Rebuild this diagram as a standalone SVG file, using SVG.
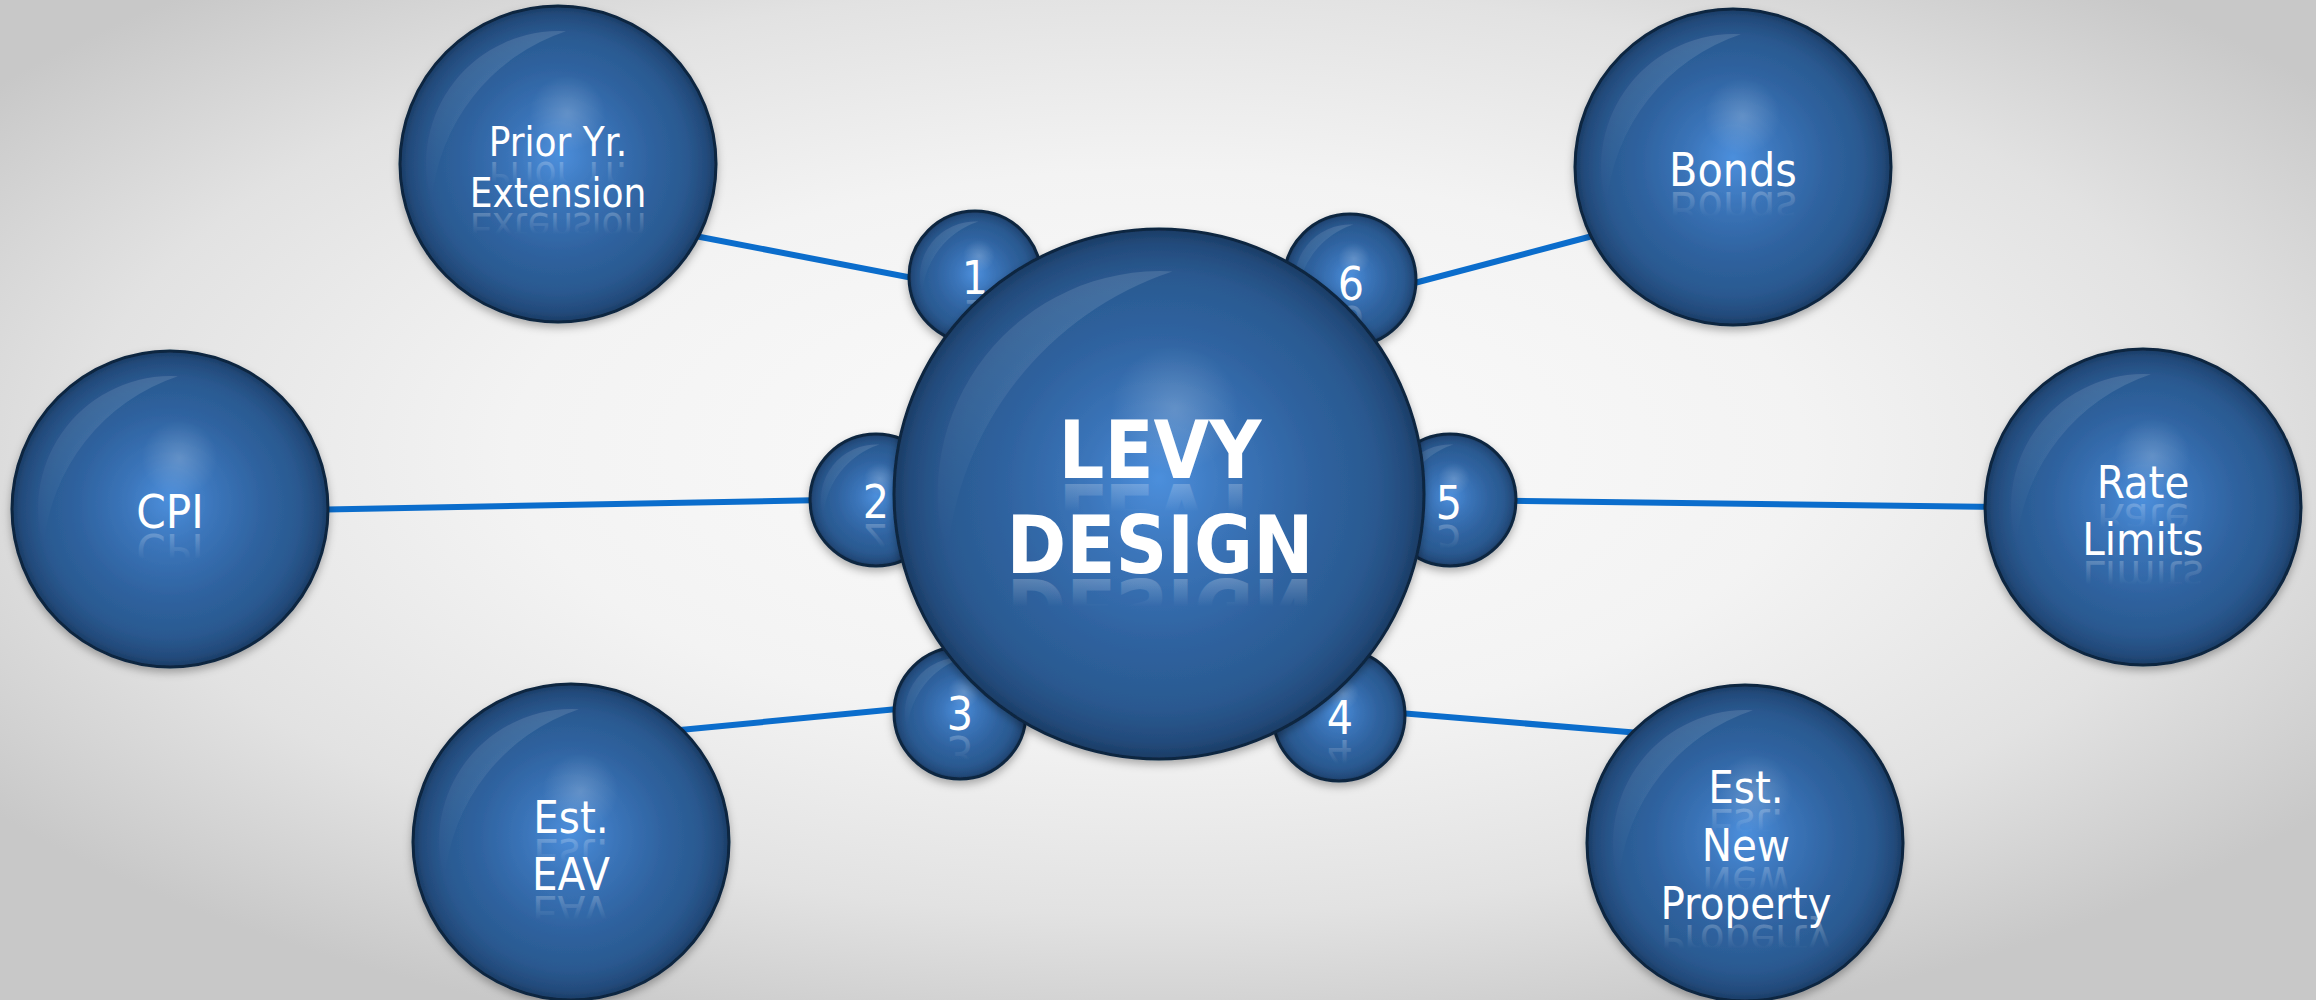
<svg xmlns="http://www.w3.org/2000/svg" width="2316" height="1000" viewBox="0 0 2316 1000">
  <defs>
    <style>
      .orb { fill: url(#orbFill); stroke: #0d2540; stroke-width: 3; filter: url(#shadow); }
      .spot { fill: url(#spotFill); }
      .gloss { fill: url(#glossFill); }
      .lbl { font-family: "DejaVu Sans Condensed", "DejaVu Sans", sans-serif; font-stretch: condensed; fill: #ffffff; text-anchor: middle; }
      .refl { fill: url(#reflFill); }
      .reflBig { fill: url(#reflFillBig); }
      .big { font-weight: bold; font-size: 80px; }
      .num { font-size: 46px; }
      .conn { stroke: #0b6dcc; stroke-width: 6; stroke-linecap: butt; fill: none; }
    </style>
    <radialGradient id="bgFill" cx="0.5" cy="0.45" r="0.62">
      <stop offset="0" stop-color="#fbfbfb"/>
      <stop offset="0.45" stop-color="#f3f3f3"/>
      <stop offset="0.75" stop-color="#e2e2e2"/>
      <stop offset="1" stop-color="#c8c8c8"/>
    </radialGradient>
    <radialGradient id="orbFill" cx="0.5" cy="0.5" r="0.5" fx="0.5" fy="0.47">
      <stop offset="0" stop-color="#4c8fdc"/>
      <stop offset="0.28" stop-color="#3b75ba"/>
      <stop offset="0.58" stop-color="#2f63a0"/>
      <stop offset="0.82" stop-color="#2a5990"/>
      <stop offset="0.94" stop-color="#234b7c"/>
      <stop offset="1" stop-color="#1b3c65"/>
    </radialGradient>
    <radialGradient id="spotFill" cx="0.53" cy="0.34" r="0.12">
      <stop offset="0" stop-color="#ffffff" stop-opacity="0.2"/>
      <stop offset="1" stop-color="#ffffff" stop-opacity="0"/>
    </radialGradient>
    <linearGradient id="glossFill" x1="0.7" y1="0" x2="0.1" y2="1">
      <stop offset="0" stop-color="#ffffff" stop-opacity="0.12"/>
      <stop offset="0.6" stop-color="#ffffff" stop-opacity="0.06"/>
      <stop offset="1" stop-color="#ffffff" stop-opacity="0"/>
    </linearGradient>
    <linearGradient id="reflFill" x1="0" y1="0" x2="0" y2="1">
      <stop offset="0" stop-color="#ffffff" stop-opacity="0"/>
      <stop offset="0.35" stop-color="#ffffff" stop-opacity="0"/>
      <stop offset="0.8" stop-color="#ffffff" stop-opacity="0.22"/>
      <stop offset="1" stop-color="#ffffff" stop-opacity="0.22"/>
    </linearGradient>
    <linearGradient id="reflFillBig" x1="0" y1="0" x2="0" y2="1">
      <stop offset="0" stop-color="#ffffff" stop-opacity="0"/>
      <stop offset="0.5" stop-color="#ffffff" stop-opacity="0"/>
      <stop offset="0.8" stop-color="#ffffff" stop-opacity="0.22"/>
      <stop offset="1" stop-color="#ffffff" stop-opacity="0.22"/>
    </linearGradient>
    <filter id="shadow" x="-20%" y="-20%" width="140%" height="145%">
      <feDropShadow dx="0" dy="4" stdDeviation="4" flood-color="#000000" flood-opacity="0.3"/>
    </filter>
    <!-- glossy crescent on the upper-left of a unit sphere -->
    <path id="gloss" class="gloss" d="M-0.80 0.24 A0.84 0.84 0 0 1 0.05 -0.84 A1.25 1.25 0 0 0 -0.80 0.24 Z"/>
  </defs>

  <rect x="0" y="0" width="2316" height="1000" fill="url(#bgFill)"/>

  <g id="connectors">
    <line class="conn" x1="690" y1="235" x2="975" y2="290"/>
    <line class="conn" x1="1350" y1="300" x2="1600" y2="234"/>
    <line class="conn" x1="300" y1="510" x2="876" y2="499"/>
    <line class="conn" x1="1450" y1="500" x2="2000" y2="507"/>
    <line class="conn" x1="680" y1="730" x2="960" y2="703"/>
    <line class="conn" x1="1339" y1="708" x2="1640" y2="733"/>
  </g>

  <g id="node-prior-yr-extension">
    <circle class="orb" cx="558" cy="164" r="158"/>
    <circle class="spot" cx="558" cy="164" r="158"/>
    <use href="#gloss" transform="translate(558 164) scale(158)"/>
    <g class="lbl" font-size="40">
      <text class="refl" x="558" y="156" transform="matrix(1 0 0 -1 0 318)">Prior Yr.</text>
      <text class="refl" x="558" y="207" transform="matrix(1 0 0 -1 0 420)">Extension</text>
      <text x="558" y="156">Prior Yr.</text>
      <text x="558" y="207">Extension</text>
    </g>
  </g>

  <g id="node-bonds">
    <circle class="orb" cx="1733" cy="167" r="158"/>
    <circle class="spot" cx="1733" cy="167" r="158"/>
    <use href="#gloss" transform="translate(1733 167) scale(158)"/>
    <g class="lbl" font-size="46">
      <text class="refl" x="1733" y="186" transform="matrix(1 0 0 -1 0 378)">Bonds</text>
      <text x="1733" y="186">Bonds</text>
    </g>
  </g>

  <g id="node-cpi">
    <circle class="orb" cx="170" cy="509" r="158"/>
    <circle class="spot" cx="170" cy="509" r="158"/>
    <use href="#gloss" transform="translate(170 509) scale(158)"/>
    <g class="lbl" font-size="47">
      <text class="refl" x="170" y="528" transform="matrix(1 0 0 -1 0 1062)">CPI</text>
      <text x="170" y="528">CPI</text>
    </g>
  </g>

  <g id="node-rate-limits">
    <circle class="orb" cx="2143" cy="507" r="158"/>
    <circle class="spot" cx="2143" cy="507" r="158"/>
    <use href="#gloss" transform="translate(2143 507) scale(158)"/>
    <g class="lbl" font-size="45">
      <text class="refl" x="2143" y="498" transform="matrix(1 0 0 -1 0 1002)">Rate</text>
      <text class="refl" x="2143" y="555" transform="matrix(1 0 0 -1 0 1116)">Limits</text>
      <text x="2143" y="498">Rate</text>
      <text x="2143" y="555">Limits</text>
    </g>
  </g>

  <g id="node-est-eav">
    <circle class="orb" cx="571" cy="842" r="158"/>
    <circle class="spot" cx="571" cy="842" r="158"/>
    <use href="#gloss" transform="translate(571 842) scale(158)"/>
    <g class="lbl" font-size="45">
      <text class="refl" x="571" y="833" transform="matrix(1 0 0 -1 0 1672)">Est.</text>
      <text class="refl" x="571" y="890" transform="matrix(1 0 0 -1 0 1786)">EAV</text>
      <text x="571" y="833">Est.</text>
      <text x="571" y="890">EAV</text>
    </g>
  </g>

  <g id="node-est-new-property">
    <circle class="orb" cx="1745" cy="843" r="158"/>
    <circle class="spot" cx="1745" cy="843" r="158"/>
    <use href="#gloss" transform="translate(1745 843) scale(158)"/>
    <g class="lbl" font-size="45">
      <text class="refl" x="1746" y="803" transform="matrix(1 0 0 -1 0 1612)">Est.</text>
      <text class="refl" x="1746" y="861" transform="matrix(1 0 0 -1 0 1728)">New</text>
      <text class="refl" x="1746" y="919" transform="matrix(1 0 0 -1 0 1844)">Property</text>
      <text x="1746" y="803">Est.</text>
      <text x="1746" y="861">New</text>
      <text x="1746" y="919">Property</text>
    </g>
  </g>

  <g id="node-1">
    <circle class="orb" cx="975" cy="277" r="66"/>
    <circle class="spot" cx="975" cy="277" r="66"/>
    <use href="#gloss" transform="translate(975 277) scale(66)"/>
    <text class="lbl num refl" x="975" y="294" transform="matrix(1 0 0 -1 0 594)">1</text>
    <text class="lbl num" x="975" y="294">1</text>
  </g>

  <g id="node-6">
    <circle class="orb" cx="1350" cy="280" r="66"/>
    <circle class="spot" cx="1350" cy="280" r="66"/>
    <use href="#gloss" transform="translate(1350 280) scale(66)"/>
    <text class="lbl num refl" x="1351" y="300" transform="matrix(1 0 0 -1 0 606)">6</text>
    <text class="lbl num" x="1351" y="300">6</text>
  </g>

  <g id="node-2">
    <circle class="orb" cx="876" cy="500" r="66"/>
    <circle class="spot" cx="876" cy="500" r="66"/>
    <use href="#gloss" transform="translate(876 500) scale(66)"/>
    <text class="lbl num refl" x="876" y="518" transform="matrix(1 0 0 -1 0 1042)">2</text>
    <text class="lbl num" x="876" y="518">2</text>
  </g>

  <g id="node-5">
    <circle class="orb" cx="1450" cy="500" r="66"/>
    <circle class="spot" cx="1450" cy="500" r="66"/>
    <use href="#gloss" transform="translate(1450 500) scale(66)"/>
    <text class="lbl num refl" x="1449" y="519" transform="matrix(1 0 0 -1 0 1044)">5</text>
    <text class="lbl num" x="1449" y="519">5</text>
  </g>

  <g id="node-3">
    <circle class="orb" cx="960" cy="713" r="66"/>
    <circle class="spot" cx="960" cy="713" r="66"/>
    <use href="#gloss" transform="translate(960 713) scale(66)"/>
    <text class="lbl num refl" x="960" y="730" transform="matrix(1 0 0 -1 0 1466)">3</text>
    <text class="lbl num" x="960" y="730">3</text>
  </g>

  <g id="node-4">
    <circle class="orb" cx="1339" cy="715" r="66"/>
    <circle class="spot" cx="1339" cy="715" r="66"/>
    <use href="#gloss" transform="translate(1339 715) scale(66)"/>
    <text class="lbl num refl" x="1340" y="734" transform="matrix(1 0 0 -1 0 1474)">4</text>
    <text class="lbl num" x="1340" y="734">4</text>
  </g>

  <g id="node-levy-design">
    <circle class="orb" cx="1159" cy="494" r="265"/>
    <circle class="spot" cx="1159" cy="494" r="265"/>
    <use href="#gloss" transform="translate(1159 494) scale(265)"/>
    <g class="lbl big">
      <text class="reflBig" x="1160" y="478" transform="matrix(1 0 0 -1 0 962)">LEVY</text>
      <text class="reflBig" x="1160" y="573" transform="matrix(1 0 0 -1 0 1152)">DESIGN</text>
      <text x="1160" y="478">LEVY</text>
      <text x="1160" y="573">DESIGN</text>
    </g>
  </g>
</svg>
